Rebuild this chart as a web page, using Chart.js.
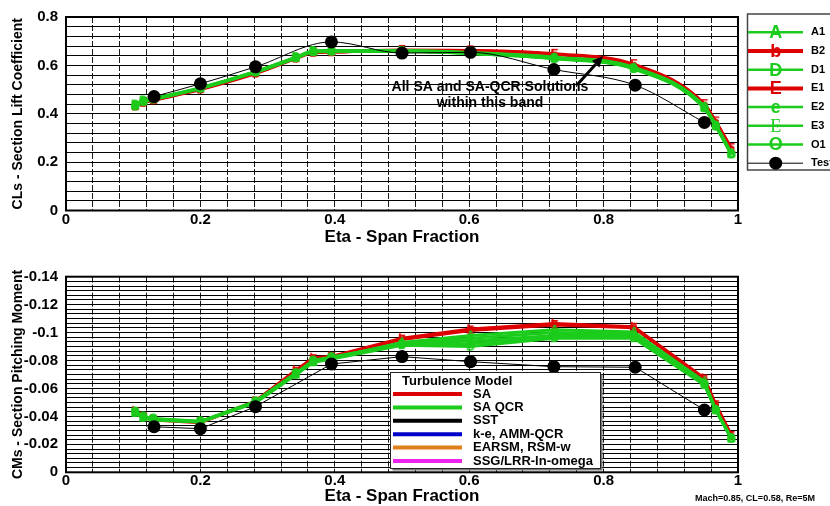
<!DOCTYPE html>
<html>
<head>
<meta charset="utf-8">
<script src="https://cdn.jsdelivr.net/npm/chart.js@4/dist/chart.umd.min.js"></script>
<style>
  html, body { margin: 0; padding: 0; background: #fff; width: 830px; height: 506px; overflow: hidden; }
  #clChart { position: absolute; left: 0; top: 0; }
  #cmChart { position: absolute; left: 0; top: 250px; }
</style>
</head>
<body>
<canvas id="clChart" width="830" height="250"></canvas>
<canvas id="cmChart" width="830" height="256"></canvas>
<script>
// Span stations of the CFD section cuts
const eta = [0.103, 0.115, 0.13, 0.2, 0.282, 0.342, 0.368, 0.395, 0.5, 0.602, 0.727, 0.845, 0.95, 0.967, 0.99];

// CFD runs
const runNames   = ['A1', 'B2', 'D1', 'E1', 'E2', 'E3', 'O1'];
const runModels  = ['SA QCR', 'SA', 'SA QCR', 'SA', 'SA QCR', 'SA QCR', 'SA QCR'];
const runMarkers = ['A', 'b', 'D', 'E', 'e', 'E', 'O'];

// Section lift coefficient per run
const clA1 = [0.435, 0.452, 0.462, 0.507, 0.574, 0.633, 0.658, 0.660, 0.660, 0.652, 0.632, 0.590, 0.428, 0.352, 0.236];
const clB2 = [0.430, 0.445, 0.455, 0.500, 0.566, 0.628, 0.652, 0.654, 0.662, 0.660, 0.645, 0.602, 0.438, 0.366, 0.256];
const clD1 = [0.438, 0.455, 0.463, 0.508, 0.575, 0.634, 0.659, 0.661, 0.659, 0.650, 0.628, 0.586, 0.424, 0.349, 0.233];
const clE1 = [0.432, 0.447, 0.457, 0.502, 0.568, 0.630, 0.654, 0.656, 0.664, 0.662, 0.648, 0.605, 0.440, 0.368, 0.258];
const clE2 = [0.433, 0.450, 0.460, 0.505, 0.572, 0.631, 0.656, 0.658, 0.658, 0.649, 0.630, 0.588, 0.426, 0.350, 0.235];
const clE3 = [0.436, 0.453, 0.461, 0.506, 0.573, 0.632, 0.657, 0.659, 0.661, 0.653, 0.634, 0.592, 0.430, 0.354, 0.238];
const clO1 = [0.430, 0.448, 0.459, 0.504, 0.571, 0.630, 0.655, 0.657, 0.657, 0.648, 0.627, 0.585, 0.422, 0.347, 0.232];

// Section pitching moment per run
const cmA1 = [-0.0430, -0.0395, -0.0380, -0.0362, -0.0500, -0.0700, -0.0790, -0.0815, -0.0930, -0.0980, -0.1020, -0.1005, -0.0650, -0.0448, -0.0245];
const cmB2 = [-0.0440, -0.0400, -0.0380, -0.0360, -0.0510, -0.0730, -0.0820, -0.0830, -0.0960, -0.1025, -0.1065, -0.1042, -0.0673, -0.0487, -0.0267];
const cmD1 = [-0.0425, -0.0390, -0.0375, -0.0360, -0.0498, -0.0698, -0.0788, -0.0810, -0.0910, -0.0900, -0.0960, -0.0960, -0.0625, -0.0444, -0.0242];
const cmE1 = [-0.0430, -0.0395, -0.0375, -0.0355, -0.0505, -0.0720, -0.0810, -0.0825, -0.0950, -0.1015, -0.1055, -0.1035, -0.0665, -0.0480, -0.0260];
const cmE2 = [-0.0428, -0.0392, -0.0378, -0.0361, -0.0502, -0.0702, -0.0792, -0.0818, -0.0925, -0.0960, -0.1000, -0.0990, -0.0640, -0.0446, -0.0243];
const cmE3 = [-0.0432, -0.0398, -0.0382, -0.0363, -0.0505, -0.0705, -0.0795, -0.0820, -0.0920, -0.0940, -0.0980, -0.0980, -0.0635, -0.0447, -0.0244];
const cmO1 = [-0.0435, -0.0400, -0.0385, -0.0365, -0.0508, -0.0710, -0.0800, -0.0825, -0.0915, -0.0920, -0.0970, -0.0970, -0.0630, -0.0445, -0.0241];

// Wind tunnel test
const etaTest = [0.131, 0.2, 0.282, 0.395, 0.5, 0.602, 0.726, 0.847, 0.95];
const clTest  = [0.471, 0.524, 0.594, 0.697, 0.651, 0.654, 0.583, 0.518, 0.364];
const cmTest  = [-0.0326, -0.0312, -0.0470, -0.0775, -0.0828, -0.0792, -0.0756, -0.0752, -0.0446];

// Axis tick labels
const xTickLabels  = ['0', '0.2', '0.4', '0.6', '0.8', '1'];
const clTickLabels = ['0', '0.2', '0.4', '0.6', '0.8'];
const cmTickLabels = ['-0.14', '-0.12', '-0.1', '-0.08', '-0.06', '-0.04', '-0.02', '0'];

// Turbulence model key
const modelNames  = ['SA', 'SA QCR', 'SST', 'k-e, AMM-QCR', 'EARSM, RSM-w', 'SSG/LRR-ln-omega'];
const modelColors = ['#dd0000', '#1ccc1c', '#000000', '#0000c8', '#e07f1c', '#ee22ee'];

const noteLines = ['All SA and SA-QCR Solutions', 'within this band'];
const footnote = 'Mach=0.85, CL=0.58, Re=5M';

const clRuns = [clA1, clB2, clD1, clE1, clE2, clE3, clO1];
const cmRuns = [cmA1, cmB2, cmD1, cmE1, cmE2, cmE3, cmO1];

const FONT = "'Liberation Sans', Arial, Helvetica, sans-serif";
const SERIF = "'Liberation Serif', 'DejaVu Serif', serif";
const modelColor = m => modelColors[modelNames.indexOf(m)];

function markerFont(i, size) {
  return runNames[i] === 'E3' ? `normal ${size}px ${SERIF}` : `bold ${size}px ${FONT}`;
}

// Small canvas carrying a letter glyph, used as a point style
function glyph(ch, color, font, size) {
  const c = document.createElement('canvas');
  c.width = size; c.height = size;
  const g = c.getContext('2d');
  g.font = font;
  g.fillStyle = color;
  g.textAlign = 'center';
  g.textBaseline = 'middle';
  g.fillText(ch, size / 2, size / 2 + 1);
  return c;
}

function gridSteps(a, b, step) {
  const n = Math.round((b - a) / step);
  return Array.from({ length: n + 1 }, (_, i) => a + i * (b - a) / n);
}

function labelFor(v, labels) {
  const hit = labels.find(l => Math.abs(parseFloat(l) - v) < 1e-9);
  return hit === undefined ? '' : hit;
}

function buildDatasets(values, testValues, smooth) {
  const sets = runNames.map((name, i) => {
    const color = modelColor(runModels[i]);
    return {
      label: name,
      data: eta.map((x, k) => ({ x, y: values[i][k] })),
      borderColor: color,
      backgroundColor: color,
      borderWidth: 3,
      pointStyle: glyph(runMarkers[i], color, markerFont(i, 12), 14),
      pointRadius: 5,
      cubicInterpolationMode: smooth ? 'monotone' : 'default',
      tension: 0,
      order: runModels[i] === 'SA' ? 2 : 1,
      marker: runMarkers[i]
    };
  });
  sets.push({
    label: 'Test',
    data: etaTest.map((x, k) => ({ x, y: testValues[k] })),
    borderColor: '#000',
    backgroundColor: '#000',
    borderWidth: 1,
    pointStyle: 'circle',
    pointRadius: 6.5,
    pointBorderWidth: 0,
    cubicInterpolationMode: smooth ? 'monotone' : 'default',
    tension: 0,
    order: 0,
    marker: null
  });
  return sets;
}

function xAxis(height, titlePad) {
  return {
    type: 'linear', min: 0, max: 1,
    afterBuildTicks: s => { s.ticks = gridSteps(0, 1, 0.04).map(v => ({ value: v })); },
    afterFit: s => { s.height = height; },
    ticks: {
      autoSkip: false, maxRotation: 0, minRotation: 0, padding: 0, color: '#000',
      font: { family: FONT, size: 15, weight: 'bold' },
      callback: v => labelFor(v, xTickLabels)
    },
    grid: { color: '#1a1a1a', lineWidth: 1, drawTicks: false },
    border: { display: false, dash: [6, 2] },
    title: {
      display: true, text: 'Eta - Span Fraction', color: '#000',
      font: { family: FONT, size: 17, weight: 'bold' },
      padding: { top: 0, bottom: titlePad }
    }
  };
}

function yAxis(min, max, step, labels, title, reverse) {
  return {
    type: 'linear', min, max, reverse,
    afterBuildTicks: s => { s.ticks = gridSteps(min, max, step).map(v => ({ value: v })); },
    afterFit: s => { s.width = 66; },
    ticks: {
      autoSkip: false, padding: 8, color: '#000',
      font: { family: FONT, size: 15, weight: 'bold' },
      callback: v => labelFor(v, labels)
    },
    grid: { color: '#000', lineWidth: 1, drawTicks: false },
    border: { display: false },
    title: {
      display: true, text: title, color: '#000',
      font: { family: FONT, size: 14, weight: 'bold' },
      padding: { top: 9.6, bottom: 0 }
    }
  };
}

// Heavy box around the plotting area
const frame = {
  id: 'frame',
  beforeDatasetsDraw(chart) {
    const { left, top, right, bottom } = chart.chartArea;
    const ctx = chart.ctx;
    ctx.save();
    ctx.strokeStyle = '#000';
    ctx.lineWidth = 2;
    ctx.strokeRect(left, top, right - left, bottom - top);
    ctx.restore();
  }
};

// Run key on the right of the lift plot
const runKey = {
  id: 'runKey',
  afterDraw(chart) {
    const ctx = chart.ctx;
    ctx.save();
    ctx.strokeStyle = '#444';
    ctx.lineWidth = 1.5;
    ctx.strokeRect(747.5, 14, 100, 156);
    chart.data.datasets.forEach((ds, i) => {
      const y = 32.3 + i * 18.7;
      ctx.strokeStyle = ds.borderColor;
      ctx.lineWidth = ds.marker ? (runModels[i] === 'SA' ? 4 : 2.5) : 1;
      ctx.beginPath();
      ctx.moveTo(748, y);
      ctx.lineTo(803, y);
      ctx.stroke();
      if (ds.marker) {
        ctx.font = markerFont(i, 18);
        ctx.fillStyle = ds.borderColor;
        ctx.textAlign = 'center';
        ctx.textBaseline = 'middle';
        ctx.fillText(ds.marker, 775.7, y + 1);
      } else {
        ctx.fillStyle = '#000';
        ctx.beginPath();
        ctx.arc(775.7, y, 6.5, 0, Math.PI * 2);
        ctx.fill();
      }
      ctx.fillStyle = '#000';
      ctx.font = `bold 11px ${FONT}`;
      ctx.textAlign = 'left';
      ctx.textBaseline = 'middle';
      ctx.fillText(ds.label, 811, y);
    });
    ctx.restore();
  }
};

// Band note with arrow on the lift plot
const bandNote = {
  id: 'bandNote',
  afterDatasetsDraw(chart) {
    const ctx = chart.ctx;
    ctx.save();
    ctx.fillStyle = '#000';
    ctx.font = `bold 14px ${FONT}`;
    ctx.textAlign = 'center';
    ctx.textBaseline = 'middle';
    ctx.fillText(noteLines[0], 490, 87.5);
    ctx.fillText(noteLines[1], 490, 103);
    const x0 = 577, y0 = 85, x1 = 603, y1 = 56;
    const ang = Math.atan2(y1 - y0, x1 - x0);
    const hl = 11, hw = 5;
    const bx = x1 - hl * Math.cos(ang), by = y1 - hl * Math.sin(ang);
    ctx.strokeStyle = '#000';
    ctx.lineWidth = 3;
    ctx.beginPath();
    ctx.moveTo(x0, y0);
    ctx.lineTo(bx, by);
    ctx.stroke();
    ctx.beginPath();
    ctx.moveTo(x1, y1);
    ctx.lineTo(bx + hw * Math.sin(ang), by - hw * Math.cos(ang));
    ctx.lineTo(bx - hw * Math.sin(ang), by + hw * Math.cos(ang));
    ctx.closePath();
    ctx.fill();
    ctx.restore();
  }
};

// Turbulence model key and run conditions on the moment plot
const modelKey = {
  id: 'modelKey',
  afterDraw(chart) {
    const ctx = chart.ctx;
    ctx.save();
    const bx = 390.5, by = 122.5, bw = 210, bh = 96;
    ctx.fillStyle = '#777';
    ctx.fillRect(bx + 2, by + 2, bw, bh);
    ctx.fillStyle = '#fff';
    ctx.fillRect(bx, by, bw, bh);
    ctx.strokeStyle = '#222';
    ctx.lineWidth = 1;
    ctx.strokeRect(bx, by, bw, bh);
    ctx.fillStyle = '#000';
    ctx.textAlign = 'left';
    ctx.textBaseline = 'middle';
    ctx.font = `bold 13px ${FONT}`;
    ctx.fillText('Turbulence Model', 402, 131.7);
    modelNames.forEach((name, i) => {
      const y = 144 + i * 13.4;
      ctx.strokeStyle = modelColors[i];
      ctx.lineWidth = 4;
      ctx.beginPath();
      ctx.moveTo(393, y);
      ctx.lineTo(462, y);
      ctx.stroke();
      ctx.fillStyle = '#000';
      ctx.fillText(name, 473, y);
    });
    ctx.font = `bold 9px ${FONT}`;
    ctx.textAlign = 'center';
    ctx.fillText(footnote, 755, 249);
    ctx.restore();
  }
};

const baseOptions = {
  responsive: false,
  animation: false,
  events: [],
  plugins: { legend: { display: false }, tooltip: { enabled: false } }
};

new Chart(document.getElementById('clChart'), {
  type: 'line',
  data: { datasets: buildDatasets(clRuns, clTest, true) },
  plugins: [frame, runKey, bandNote],
  options: {
    ...baseOptions,
    layout: { padding: { top: 15.5, right: 92, left: 0, bottom: 0 } },
    scales: {
      x: xAxis(39.5, 2.5),
      y: yAxis(0, 0.8, 0.04, clTickLabels, 'CLs - Section Lift Coefficient', false)
    }
  }
});

new Chart(document.getElementById('cmChart'), {
  type: 'line',
  data: { datasets: buildDatasets(cmRuns, cmTest, false) },
  plugins: [frame, modelKey],
  options: {
    ...baseOptions,
    layout: { padding: { top: 26.7, right: 92, left: 0, bottom: 0 } },
    scales: {
      x: xAxis(33.7, -1),
      y: yAxis(-0.14, 0, 0.02 / 6, cmTickLabels, 'CMs - Section Pitching Moment', true)
    }
  }
});
</script>
</body>
</html>
